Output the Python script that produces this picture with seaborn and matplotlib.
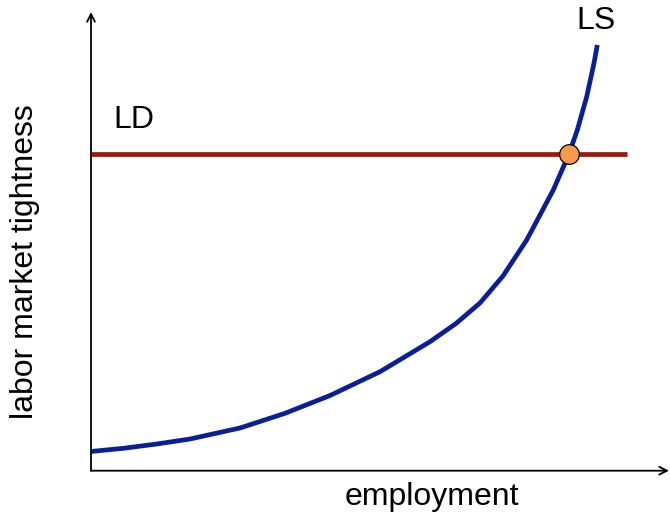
import matplotlib
matplotlib.use("Agg")
import matplotlib.pyplot as plt
import seaborn as sns
import pandas as pd

# LS curve (employment vs labor market tightness)
ls_employment = [0, 5.59, 11.37, 17.13, 25.78, 33.56, 41.35, 50.0, 58.65, 63.15,
                 67.30, 71.28, 75.38, 79.98, 82.70, 84.14, 85.76, 87.02, 87.6]
ls_tightness = [4.19, 4.88, 5.82, 6.91, 9.31, 12.51, 16.39, 21.58, 28.12, 32.09,
                36.56, 42.45, 50.30, 61.20, 69.04, 74.28, 81.53, 88.82, 92.81]

# LD horizontal line
ld_employment = [0, 92.7]
ld_tightness = [69.0, 69.0]

# equilibrium point
eq_employment = [82.7]
eq_tightness = [69.0]

sns.set_theme(style="white")
plt.rcParams['font.family'] = ['Liberation Sans', 'DejaVu Sans']
plt.rcParams['text.color'] = 'black'

fig = plt.figure(figsize=(6.7, 5.17), dpi=100)
ax = fig.add_axes([91/670, (517-470.7)/517, (669-91)/670, (470.7-12)/517])

ls_df = pd.DataFrame({"employment": ls_employment, "tightness": ls_tightness})
ld_df = pd.DataFrame({"employment": ld_employment, "tightness": ld_tightness})
eq_df = pd.DataFrame({"employment": eq_employment, "tightness": eq_tightness})

sns.lineplot(data=ld_df, x="employment", y="tightness", ax=ax, color="#9a1a0a",
             linewidth=3.4, solid_capstyle="butt")
sns.lineplot(data=ls_df, x="employment", y="tightness", ax=ax, color="#0a1f96",
             linewidth=3.4, sort=False, solid_joinstyle="round", solid_capstyle="butt")
sns.scatterplot(data=eq_df, x="employment", y="tightness", ax=ax, s=200,
                color="#f79a4b", edgecolor="black", linewidth=0.9, zorder=5)

ax.set_xlim(0, 100)
ax.set_ylim(0, 100)
for s in ax.spines.values():
    s.set_visible(False)
ax.set_xticks([])
ax.set_yticks([])
ax.set_xlabel("")
ax.set_ylabel("")

# axes arrows
ax.annotate("", xy=(1.0, 0), xytext=(0, 0), xycoords="axes fraction",
            arrowprops=dict(arrowstyle="->", color="black", lw=1.3,
                            mutation_scale=14, shrinkA=0, shrinkB=0), clip_on=False)
ax.annotate("", xy=(0, 1.0), xytext=(0, 0), xycoords="axes fraction",
            arrowprops=dict(arrowstyle="->", color="black", lw=1.3,
                            mutation_scale=14, shrinkA=0, shrinkB=0), clip_on=False)

ax.text(3.8, 76.5, "LD", fontsize=23, ha="left", va="center", color="black")
ax.text(84.0, 98.0, "LS", fontsize=23, ha="left", va="center", color="black", clip_on=False)

fig.text(432/670, 1 - 497/517, "employment", fontsize=23, ha="center", va="center",
         color="black")
fig.text(25/670, 1 - 262/517, "labor market tightness", fontsize=23, ha="center",
         va="center", rotation=90, color="black")

fig.savefig("out.png", dpi=100)
